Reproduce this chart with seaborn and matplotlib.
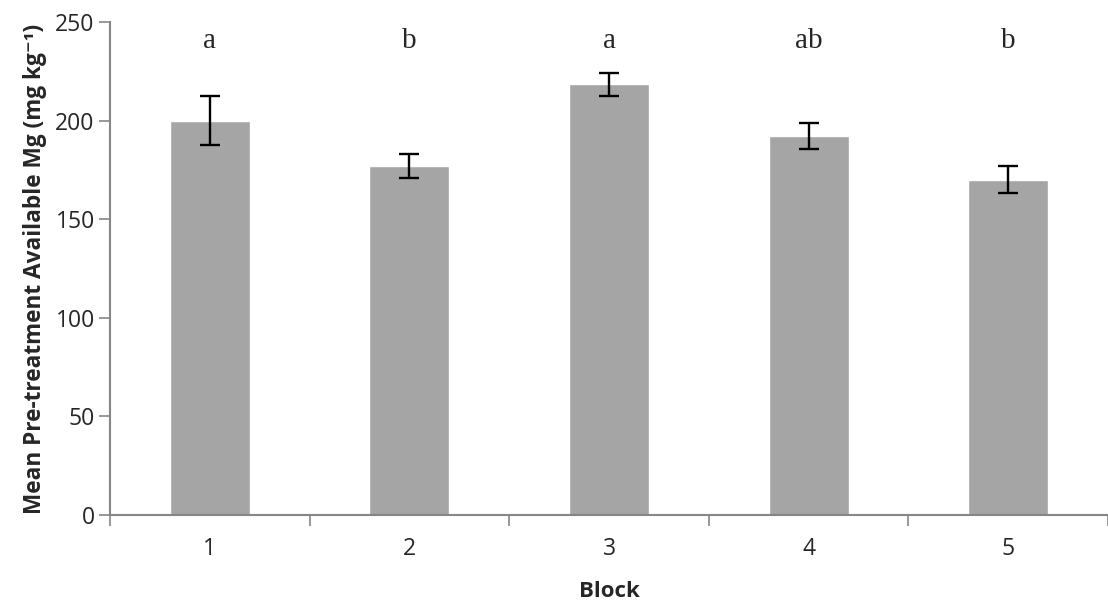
#!/usr/bin/env python3
"""Mean pre-treatment available Mg by block, bar chart with error bars."""

import matplotlib

matplotlib.use("Agg")
import matplotlib.pyplot as plt
import numpy as np
import pandas as pd
import seaborn as sns

# Data
blocks = ["1", "2", "3", "4", "5"]
mean_mg = [200.0, 177.0, 218.5, 192.0, 170.0]
se_mg = [12.4, 6.3, 5.8, 6.6, 6.9]
letters = ["a", "b", "a", "ab", "b"]
y_ticks = [0, 50, 100, 150, 200, 250]

BAR_COLOR = "#A5A5A5"
AXIS_COLOR = "#868686"
LETTER_Y = 237

sns.set_theme(style="white")
plt.rcParams["font.family"] = ["Open Sans", "DejaVu Sans"]

df = pd.DataFrame({"block": blocks, "mg": mean_mg})

fig = plt.figure(figsize=(11.08, 6.04), dpi=100)
ax = fig.add_axes([0.0993, 0.1474, 0.9007, 0.8162])

sns.barplot(data=df, x="block", y="mg", color=BAR_COLOR, width=0.4,
            saturation=1, errorbar=None, ax=ax)

xpos = np.arange(len(blocks))
ax.errorbar(xpos, mean_mg, yerr=se_mg, fmt="none", ecolor="black",
            elinewidth=1.7, capsize=7, capthick=1.7)

for x, y, lab in zip(xpos, mean_mg, letters):
    ax.text(x, LETTER_Y, lab, ha="center", va="baseline",
            fontsize=21, family="Liberation Serif")

ax.set_xlim(-0.5, len(blocks) - 0.5)
ax.set_ylim(0, 250)
ax.set_yticks(y_ticks)

# Excel-style ticks: labels centred, tick marks between categories
ax.set_xticks(np.arange(-0.5, len(blocks)), minor=True)
ax.tick_params(bottom=True, left=True)
ax.tick_params(axis="x", which="major", length=0, labelsize=16.5, pad=16)
ax.tick_params(axis="x", which="minor", bottom=True, length=8, width=1.2,
               color=AXIS_COLOR, direction="out")
ax.tick_params(axis="y", which="major", length=8, width=1.2,
               color=AXIS_COLOR, direction="out", labelsize=16.5, pad=3)

for side in ["top", "right"]:
    ax.spines[side].set_visible(False)
for side in ["left", "bottom"]:
    ax.spines[side].set_color(AXIS_COLOR)
    ax.spines[side].set_linewidth(1.5)

ax.set_xlabel("Block", fontsize=16, fontweight="bold", labelpad=14)
ax.set_ylabel("Mean Pre-treatment Available Mg (mg kg\u207b\u00b9)",
              fontsize=16.3, fontweight="bold", labelpad=6)

fig.savefig("out.png", dpi=100)
